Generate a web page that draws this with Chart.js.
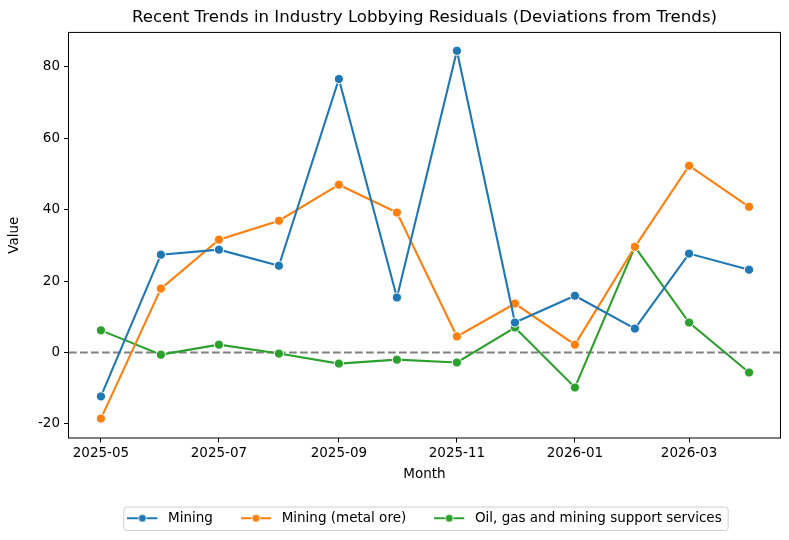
<!DOCTYPE html>
<html>
<head>
<meta charset="utf-8">
<script src="https://cdn.jsdelivr.net/npm/chart.js"></script>
<style>
  html, body { margin: 0; padding: 0; background: #fff; }
  #wrap { width: 789px; height: 540px; }
</style>
</head>
<body>
<div id="wrap"><canvas id="chart" width="789" height="540"></canvas></div>
<script>
// dados
const months = ['2025-05','2025-06','2025-07','2025-08','2025-09','2025-10','2025-11','2025-12','2026-01','2026-02','2026-03','2026-04'];
const tickMonths = ['2025-05','2025-07','2025-09','2025-11','2026-01','2026-03'];
const mining = [-12.3, 27.4, 28.8, 24.3, 76.6, 15.4, 84.5, 8.4, 15.9, 6.7, 27.7, 23.2];
const miningMetal = [-18.5, 17.9, 31.6, 36.9, 47.0, 39.2, 4.5, 13.7, 2.2, 29.6, 52.3, 40.8];
const oilGas = [6.2, -0.6, 2.2, -0.3, -3.1, -2.0, -2.8, 7.0, -9.8, 29.6, 8.4, -5.6];
const yTicks = [-20, 0, 20, 40, 60, 80];

const FONT = "'DejaVu Sans', sans-serif";
const BASE = Date.UTC(2025, 4, 1);
// dias desde 2025-05-01, como num eixo de tempo
function dayOf(m) {
    const [y, mo] = m.split('-').map(Number);
    return (Date.UTC(y, mo - 1, 1) - BASE) / 86400000;
}
function monthOfDay(d) {
    const dt = new Date(BASE + d * 86400000);
    return dt.getUTCFullYear() + '-' + String(dt.getUTCMonth() + 1).padStart(2, '0');
}
function toPoints(vals) {
    return months.map((m, i) => ({ x: dayOf(m), y: vals[i] }));
}

// ícone de legenda: linha + marcador
function legendIcon(color) {
    const c = document.createElement('canvas');
    c.width = 34; c.height = 12;
    const ctx = c.getContext('2d');
    ctx.strokeStyle = color; ctx.lineWidth = 2;
    ctx.beginPath(); ctx.moveTo(0, 6); ctx.lineTo(30, 6); ctx.stroke();
    ctx.fillStyle = color;
    ctx.beginPath(); ctx.arc(15, 6, 4, 0, Math.PI * 2); ctx.fill();
    ctx.strokeStyle = '#fff'; ctx.lineWidth = 0.8; ctx.stroke();
    return c;
}

function makeSeries(label, vals, color) {
    return {
        label: label,
        data: toPoints(vals),
        borderColor: color,
        backgroundColor: color,
        borderWidth: 2.1,
        pointRadius: 4.6,
        pointHoverRadius: 4.6,
        pointBackgroundColor: color,
        pointBorderColor: '#fff',
        pointBorderWidth: 1,
        tension: 0
    };
}

const framePlugin = {
    id: 'frame',
    beforeDatasetsDraw(chart) {
        const { ctx, chartArea: a, scales } = chart;
        const y0 = scales.y.getPixelForValue(0);
        ctx.save();
        ctx.strokeStyle = '#808080';
        ctx.lineWidth = 2;
        ctx.setLineDash([7.7, 3.3]);
        ctx.beginPath(); ctx.moveTo(a.left, y0); ctx.lineTo(a.right, y0); ctx.stroke();
        ctx.restore();
    },
    afterDraw(chart) {
        const { ctx, chartArea: a, legend } = chart;
        ctx.save();
        ctx.strokeStyle = '#000';
        ctx.lineWidth = 1;
        ctx.strokeRect(a.left - 0.5, a.top - 0.5, a.right - a.left + 1, a.bottom - a.top + 1);
        // caixa da legenda
        if (legend && legend.legendHitBoxes.length) {
            const boxes = legend.legendHitBoxes;
            const last = boxes[boxes.length - 1];
            const l = boxes[0].left - 4, r = last.left + last.width + 6;
            const t = boxes[0].top - 5, h = boxes[0].height + 10;
            ctx.strokeStyle = '#d0d0d0';
            ctx.lineWidth = 1;
            ctx.beginPath();
            ctx.roundRect(l + 0.5, t + 0.5, r - l, h, 3);
            ctx.stroke();
        }
        ctx.restore();
    }
};

new Chart(document.getElementById('chart').getContext('2d'), {
    type: 'line',
    data: {
        datasets: [
            makeSeries('Mining', mining, '#1f77b4'),
            makeSeries('Mining (metal ore)', miningMetal, '#ff7f0e'),
            makeSeries('Oil, gas and mining support services', oilGas, '#2ca02c')
        ]
    },
    options: {
        responsive: false,
        animation: false,
        events: [],
        layout: { padding: { left: 0, right: 9, top: 0, bottom: 5 } },
        plugins: {
            title: {
                display: true,
                fullSize: false,
                text: 'Recent Trends in Industry Lobbying Residuals (Deviations from Trends)',
                color: '#000',
                font: { family: FONT, size: 16.6, weight: 'normal' },
                padding: { top: 8, bottom: 5 }
            },
            legend: {
                position: 'bottom',
                fullSize: false,
                labels: {
                    color: '#000',
                    font: { family: FONT, size: 13.5 },
                    usePointStyle: true,
                    pointStyleWidth: 34,
                    padding: 28,
                    generateLabels(chart) {
                        return chart.data.datasets.map((ds, i) => ({
                            text: ds.label,
                            pointStyle: legendIcon(ds.borderColor),
                            fillStyle: ds.borderColor,
                            strokeStyle: ds.borderColor,
                            lineWidth: 0,
                            datasetIndex: i,
                            hidden: false,
                            fontColor: '#000'
                        }));
                    }
                }
            },
            tooltip: { enabled: false }
        },
        scales: {
            x: {
                type: 'linear',
                min: -16.5,
                max: 351,
                afterBuildTicks(scale) {
                    scale.ticks = tickMonths.map(m => ({ value: dayOf(m) }));
                },
                afterFit(scale) { scale.height = 46; },
                ticks: {
                    color: '#000',
                    font: { family: FONT, size: 13.5 },
                    maxRotation: 0,
                    autoSkip: false,
                    padding: 3,
                    callback: v => monthOfDay(v)
                },
                grid: { drawOnChartArea: false, tickLength: 5, tickColor: '#000' },
                border: { display: false },
                title: { display: true, text: 'Month', color: '#000', font: { family: FONT, size: 13.5 }, padding: { top: 0, bottom: 1 } }
            },
            y: {
                min: -23.8,
                max: 89.5,
                afterBuildTicks(scale) {
                    scale.ticks = yTicks.map(v => ({ value: v }));
                },
                afterFit(scale) { scale.width = 69; },
                ticks: {
                    color: '#000',
                    font: { family: FONT, size: 13.5 },
                    padding: 4
                },
                grid: { drawOnChartArea: false, tickLength: 5, tickColor: '#000' },
                border: { display: false },
                title: { display: true, text: 'Value', color: '#000', font: { family: FONT, size: 13.5 }, padding: { top: 6 } }
            }
        }
    },
    plugins: [framePlugin]
});
</script>
</body>
</html>
